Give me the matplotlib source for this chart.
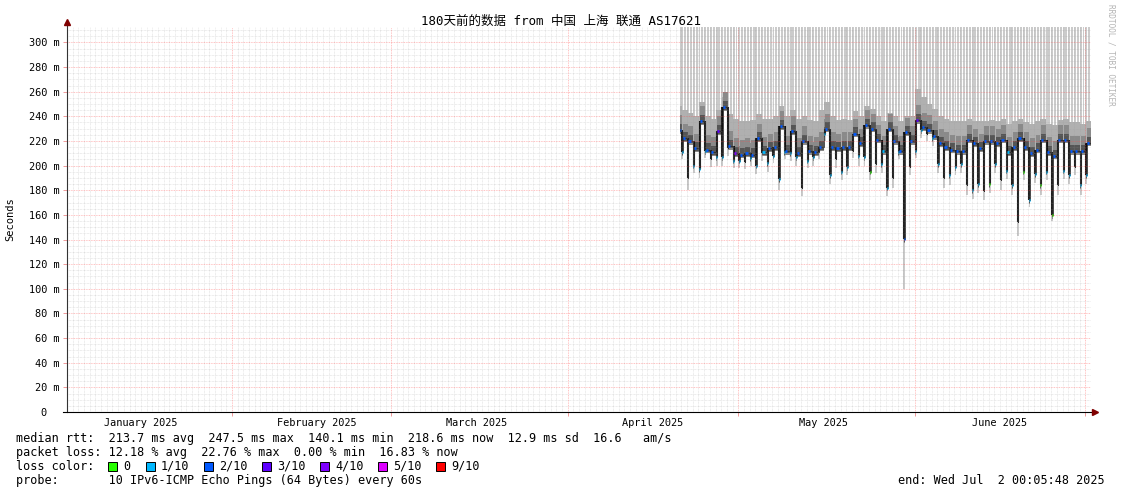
import matplotlib
matplotlib.use('Agg')
import matplotlib.pyplot as plt
import matplotlib.dates as mdates
from matplotlib.patches import Rectangle
import numpy as np

plt.rcParams['font.family'] = ['DejaVu Sans Mono', 'Noto Sans CJK SC']

W, H = 1121, 494

title = "180天前的数据 from 中国 上海 联通 AS17621"
t_start = np.datetime64('2025-01-03T00:05:48')
t_end = np.datetime64('2025-07-02T00:05:48')
first_day = np.datetime64('2025-04-20')
data_begin = np.datetime64('2025-04-20T18:00')

# one entry per day, Apr 20 .. Jul 1 (ms)
lvl = [229, 222, 220, 214, 236, 213, 211, 228, 247.5, 216,
       210, 209, 210, 209, 222, 211, 214, 215, 232, 212,
       228, 210, 220, 212, 211, 215, 230, 215, 214, 215,
       215, 226, 218, 233, 230, 221, 212, 230, 220, 212,
       227, 220, 237, 231, 229, 224, 218, 215, 213, 212,
       212, 221, 218, 214, 220, 220, 218, 221, 211, 215,
       222, 215, 210, 213, 221, 211, 208, 221, 221, 212,
       212, 212, 218.6]
dip = [None, 211, 190, 200, 197, 212, 205, 207, 207, 214,
       204, 204, 203, 206, 200, 210, 202, 208, 189, 211,
       210, 207, 182, 204, 207, 211, 226, 192, 205, 195,
       199, 212, 208, 207, 195, 201, 201, 182, 190, 211,
       140.1, 199, 212, 229, 226, 222, 201, 190, 192, 199,
       201, 184, 180, 185, 179, 185, 201, 188, 196, 184,
       154, 195, 172, 193, 184, 195, 160, 184, 196, 192,
       199, 184, 192]
upper = [248, 245, 243, 240, 252, 240, 238, 245, 256, 242,
         238, 236, 236, 237, 242, 238, 238, 240, 248, 240,
         245, 238, 240, 237, 236, 245, 252, 240, 237, 238,
         237, 244, 240, 248, 246, 240, 236, 243, 240, 236,
         240, 240, 262, 256, 250, 246, 240, 238, 236, 236,
         236, 238, 236, 236, 236, 237, 236, 238, 234, 236,
         238, 235, 234, 236, 238, 234, 233, 237, 238, 235,
         235, 234, 236]
low = [None, 205, 180, 194, 190, 206, 199, 200, 200, 208,
       198, 198, 197, 200, 193, 204, 195, 202, 180, 205,
       204, 200, 175, 198, 200, 205, 220, 185, 198, 188,
       192, 206, 200, 200, 188, 194, 194, 175, 182, 205,
       100, 192, 206, 222, 220, 216, 194, 182, 184, 192,
       194, 176, 173, 178, 172, 178, 194, 180, 189, 176,
       143, 188, 166, 186, 176, 188, 155, 176, 189, 185,
       192, 176, 185]
# lost pings out of 10
lvl_loss = [2, 2, 2, 2, 2, 2, 2, 3, 2, 2,
            4, 2, 2, 2, 2, 1, 2, 2, 2, 2,
            2, 2, 2, 2, 2, 2, 2, 2, 2, 2,
            2, 2, 2, 2, 2, 2, 1, 2, 2, 2,
            2, 2, 3, 2, 2, 2, 2, 2, 2, 2,
            2, 2, 2, 2, 2, 2, 2, 2, 1, 2,
            2, 2, 2, 2, 2, 2, 2, 2, 2, 2,
            2, 2, 2]
dip_loss = [1, 1, 1, 1, 1, 1, 1, 1, 1, 1,
            1, 1, 1, 1, 1, 1, 1, 1, 1, 1,
            1, 1, 1, 1, 1, 1, 1, 1, 1, 1,
            1, 1, 1, 1, 0, 1, 1, 1, 1, 1,
            2, 1, 1, 1, 1, 1, 1, 1, 1, 1,
            1, 1, 1, 1, 1, 0, 1, 0, 1, 1,
            1, 0, 1, 1, 0, 1, 0, 0, 1, 1,
            1, 1, 1]

loss_tenths = [0, 1, 2, 3, 4, 5, 9]
loss_names = ['0', '1/10', '2/10', '3/10', '4/10', '5/10', '9/10']
loss_colors = ['#26ff00', '#00b8ff', '#0059ff', '#5e00ff', '#7e00ff', '#dd00ff', '#ff0000']
color_of = dict(zip(loss_tenths, loss_colors))

month_starts = ['2025-02-01', '2025-03-01', '2025-04-01', '2025-05-01', '2025-06-01', '2025-07-01']
month_labels = ['January 2025', 'February 2025', 'March 2025', 'April 2025', 'May 2025', 'June 2025']
month_label_days = ['2025-01-16', '2025-02-16', '2025-03-16', '2025-04-16', '2025-05-16', '2025-06-16']
y_ticks = list(range(0, 301, 20))
y_labels = ['0  '] + ['%d m' % v for v in y_ticks[1:]]

stats_rtt = "median rtt:  213.7 ms avg  247.5 ms max  140.1 ms min  218.6 ms now  12.9 ms sd  16.6   am/s"
stats_loss = "packet loss: 12.18 % avg  22.76 % max  0.00 % min  16.83 % now"
probe = "probe:       10 IPv6-ICMP Echo Pings (64 Bytes) every 60s"
end_txt = "end: Wed Jul  2 00:05:48 2025"

fig = plt.figure(figsize=(W / 100, H / 100), dpi=100)
ax = fig.add_axes([67 / W, (H - 412) / H, 1024 / W, 385 / H])
x0 = mdates.date2num(t_start)
x1 = mdates.date2num(t_end)
ax.set_xlim(x0, x1)
ax.set_ylim(0, 312.5)
for s in ax.spines.values():
    s.set_visible(False)

# build the median series
d0 = mdates.date2num(first_day)
h = 1 / 24
ts, med, up = [mdates.date2num(data_begin)], [lvl[0]], [upper[0]]
for k in range(1, len(lvl)):
    day = d0 + k
    ts += [day + 3 * h, day + 6 * h]
    med += [dip[k], lvl[k]]
    up += [upper[k], upper[k]]
ts.append(d0 + len(lvl))
med.append(lvl[-1])
up.append(upper[-1])
ts, med, up = np.array(ts), np.array(med), np.array(up)

# light smoke bars
for k in range(len(lvl)):
    day = d0 + k
    if k > 0:
        ax.bar(day + 0.02, 330 - low[k], bottom=low[k], width=0.34, align='edge',
               color='#cbcbcb', linewidth=0, zorder=1)
    ax.bar(day + 0.52 if k > 0 else day + 0.76, 330 - lvl[k], bottom=lvl[k],
           width=0.34 if k > 0 else 0.22, align='edge', color='#cbcbcb', linewidth=0, zorder=1)

ax.fill_between(ts, med, up, step='post', color='#b0b0b0', linewidth=0, zorder=2)
ax.fill_between(ts, med - 3, med + 12, step='post', color='#8a8a8a', linewidth=0, zorder=3)
ax.fill_between(ts, med - 2, med + 5, step='post', color='#555555', linewidth=0, zorder=3)

# black spikes for the daily dips, and the jumps between days
for k in range(1, len(lvl)):
    day = d0 + k
    ax.vlines(day + 4.5 * h, dip[k], max(lvl[k - 1], lvl[k]), color='#111111', lw=1.5, zorder=4)
ax.step(ts, med, where='post', color='#2a2a2a', lw=0.6, zorder=4)

# loss coloured median bits
for k in range(len(lvl)):
    day = d0 + k
    if k > 0:
        ax.hlines(dip[k], day + 3 * h, day + 6 * h, color=color_of[dip_loss[k]], lw=2.0, zorder=5)
        ax.hlines(lvl[k], day + 6 * h, day + 15 * h, color=color_of[lvl_loss[k]], lw=2.0, zorder=5)
    else:
        ax.hlines(lvl[k], ts[0], ts[0] + 6 * h, color=color_of[lvl_loss[k]], lw=2.0, zorder=5)

# grid (rrdtool draws it on top)
minor_c = (0.6, 0.6, 0.6, 0.35)
major_c = (1.0, 0.3, 0.3, 0.45)
dots = (0, (1, 1))
mstarts = [mdates.date2num(np.datetime64(m)) for m in month_starts]
for dd in np.arange(np.ceil(x0), x1):
    if not any(abs(dd - m) < 0.01 for m in mstarts):
        ax.axvline(dd, color=minor_c, lw=0.5, ls=dots, zorder=6)
for m in mstarts:
    ax.axvline(m, color=major_c, lw=0.6, ls=dots, zorder=6)
for v in range(5, 315, 5):
    if v % 20:
        ax.axhline(v, color=minor_c, lw=0.5, ls=dots, zorder=6)
for v in y_ticks[1:]:
    ax.axhline(v, color=major_c, lw=0.6, ls=dots, zorder=6)

ax.set_yticks(y_ticks)
ax.set_yticklabels(y_labels, fontsize=7.4)
ax.tick_params(axis='y', length=3, width=0.7, color='#f09a9a', pad=2.5)
ax.set_xticks([mdates.date2num(np.datetime64(m)) for m in month_label_days])
ax.set_xticklabels(month_labels, fontsize=7.4)
ax.tick_params(axis='x', length=0, pad=4)
ax.set_xticks(mstarts, minor=True)
ax.tick_params(axis='x', which='minor', length=3, width=0.7, color='#f09a9a')

# axis lines with arrows
ax.plot([0, 0], [0, 1.01], transform=ax.transAxes, color='#333333', lw=0.8, clip_on=False, zorder=7)
ax.plot([-0.004, 1.003], [0, 0], transform=ax.transAxes, color='black', lw=0.8, clip_on=False, zorder=7)
ax.plot([0], [1.013], marker='^', ms=4, color='#800000', transform=ax.transAxes, clip_on=False, zorder=8)
ax.plot([1.004], [0], marker='>', ms=4, color='#800000', transform=ax.transAxes, clip_on=False, zorder=8)

fig.text(561 / W, 1 - 21 / H, title, fontsize=9, ha='center', va='center')
fig.text(10 / W, 1 - 219 / H, 'Seconds', fontsize=7.5, rotation=90, ha='center', va='center')
fig.text(1111 / W, 1 - 4 / H, 'RRDTOOL / TOBI OETIKER', fontsize=5.6, rotation=270,
         ha='center', va='top', color='#b4b4b4')

fig.text(16 / W, 1 - 438 / H, stats_rtt, fontsize=8.5, va='center')
fig.text(16 / W, 1 - 452 / H, stats_loss, fontsize=8.5, va='center')
fig.text(16 / W, 1 - 466 / H, 'loss color:', fontsize=8.5, va='center')
box_x = [108, 146, 204, 262, 320, 378, 436]
for bx, c, name in zip(box_x, loss_colors, loss_names):
    fig.patches.append(Rectangle((bx / W, 1 - 470.5 / H), 9 / W, 9 / H, transform=fig.transFigure,
                                 facecolor=c, edgecolor='black', lw=0.7))
    fig.text((bx + 15) / W, 1 - 466 / H, name, fontsize=8.5, va='center')
fig.text(16 / W, 1 - 480 / H, probe, fontsize=8.5, va='center')
fig.text(1105 / W, 1 - 480 / H, end_txt, fontsize=8.5, va='center', ha='right')

fig.savefig('out.png', dpi=100, facecolor='white')
